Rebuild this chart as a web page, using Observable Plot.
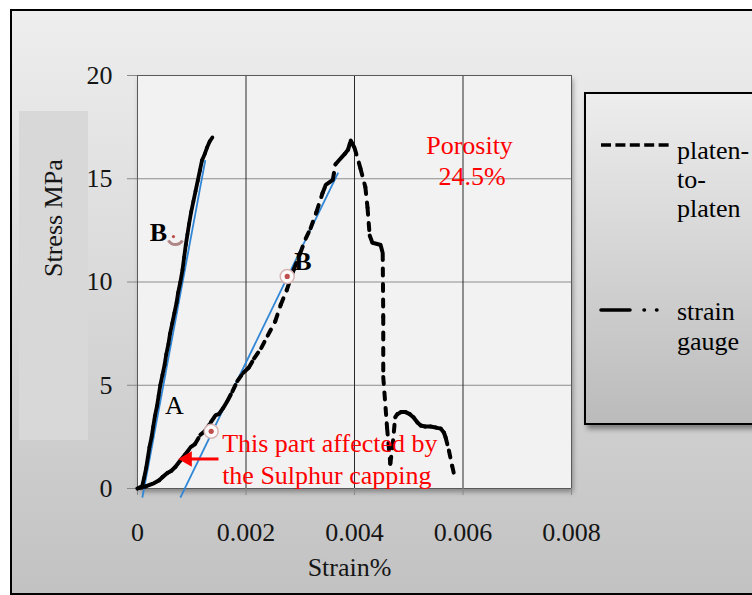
<!DOCTYPE html>
<html>
<head>
<meta charset="utf-8">
<script src="https://cdn.jsdelivr.net/npm/d3@7"></script>
<script src="https://cdn.jsdelivr.net/npm/@observablehq/plot@0.6"></script>
<style>
  html, body { margin: 0; padding: 0; background: #fff; }
  #wrap { position: relative; width: 752px; height: 595px; overflow: hidden; font-family: "Liberation Serif", "Times New Roman", serif; }
  #outer { position: absolute; left: 10px; top: 9px; width: 800px; height: 582px; border: 2.5px solid #000;
           background: linear-gradient(#eeeeee, #c2c2c2); }
  #ylabbg { position: absolute; left: 19px; top: 111px; width: 69px; height: 329px; background: #d8d8d8; }
  #plotbg { position: absolute; left: 137px; top: 75px; width: 434px; height: 413px; background: #f2f2f2;
            box-shadow: 2px 4px 5px rgba(0,0,0,0.35); }
  #chart { position: absolute; left: 0; top: 0; }
  #legend { position: absolute; left: 584px; top: 92px; width: 220px; height: 329px; border: 2px solid #000;
            background: linear-gradient(#ededed, #bbbbbb); box-shadow: 3px 4px 5px rgba(0,0,0,0.4); }
  #legend svg { position: absolute; left: -2px; top: -2px; overflow: visible; }
</style>
</head>
<body>
<div id="wrap">
  <div id="outer"></div>
  <div id="ylabbg"></div>
  <div id="plotbg"></div>
  <div id="chart"></div>
  <div id="legend"></div>
</div>
<script>
// Axis ticks and their labels
const xTicks = [0, 0.002, 0.004, 0.006, 0.008];
const xTickLabels = ["0", "0.002", "0.004", "0.006", "0.008"];
const yTicks = [0, 5, 10, 15, 20];
const yTickLabels = ["0", "5", "10", "15", "20"];

// Strain gauge reading (strain, stress MPa)
const strainGaugeStrain = [0, 0.00008, 0.00012, 0.00016, 0.00019, 0.00022, 0.00026, 0.00029, 0.00032, 0.00036,
  0.00039, 0.00042, 0.00046, 0.00050, 0.00053, 0.00057, 0.00060, 0.00064, 0.00068, 0.00072,
  0.00075, 0.00079, 0.00083, 0.00086, 0.00089, 0.00092, 0.00095, 0.00099, 0.00103, 0.00107,
  0.00111, 0.00115, 0.00119, 0.00124, 0.00128, 0.00133, 0.00138];
const strainGaugeStress = [0, 0.05, 0.5, 1.0, 1.5, 2.0, 2.5, 3.0, 3.5, 4.0,
  4.5, 5.0, 5.5, 6.0, 6.5, 7.0, 7.5, 8.0, 8.5, 9.0,
  9.5, 10.0, 10.6, 11.2, 11.8, 12.3, 12.8, 13.4, 13.9, 14.4,
  14.9, 15.4, 15.9, 16.2, 16.5, 16.8, 17.0];

// Platen-to-platen reading (strain, stress MPa)
const platenStrain = [0, 0.00004, 0.00015, 0.00030, 0.00040, 0.00046, 0.00055, 0.00062, 0.00070, 0.00079,
  0.00088, 0.00098, 0.00106, 0.00116, 0.00125, 0.00135, 0.00144, 0.00150, 0.00158, 0.00166,
  0.00175, 0.00184, 0.00195, 0.00205, 0.00215, 0.00228, 0.00240, 0.00254, 0.00264, 0.00275,
  0.00288, 0.00300, 0.00310, 0.00319, 0.00330, 0.00341, 0.00347, 0.00360, 0.00365, 0.00375,
  0.00382, 0.00388, 0.00393, 0.00400, 0.00411, 0.00420, 0.00424, 0.00428, 0.00433, 0.00448,
  0.00452, 0.00453, 0.00453, 0.00460, 0.00466, 0.00470, 0.00475, 0.00479, 0.00486, 0.00494,
  0.00502, 0.00509, 0.00516, 0.00522, 0.00530, 0.00540, 0.00550, 0.00559, 0.00565, 0.00568,
  0.00574, 0.00580, 0.00586];
const platenStress = [0, 0.05, 0.10, 0.25, 0.40, 0.55, 0.75, 0.85, 1.05, 1.36,
  1.65, 2.00, 2.15, 2.60, 2.80, 3.20, 3.55, 3.60, 3.90, 4.25,
  4.70, 5.20, 5.60, 5.85, 6.30, 6.80, 7.40, 8.10, 8.90, 9.60,
  10.60, 11.40, 12.10, 12.60, 13.40, 14.30, 14.70, 14.95, 15.70, 16.00,
  16.20, 16.40, 16.85, 16.50, 15.50, 14.60, 13.60, 12.25, 11.90, 11.80,
  11.40, 8.30, 5.40, 2.95, 1.20, 2.00, 3.45, 3.60, 3.70, 3.70,
  3.60, 3.44, 3.20, 3.05, 3.00, 3.00, 2.95, 2.90, 2.70, 2.47,
  1.84, 1.10, 0.39];

// Fitted elastic lines (blue): [strain, stress] end points
const tangentGauge = [[0.00009, -0.44], [0.00125, 15.9]];
const tangentPlaten = [[0.00079, -0.44], [0.00370, 15.3]];

// Annotations
const boldLabels = [
  {x: 0.000387, y: 12.41, text: "B"},
  {x: 0.00305, y: 10.98, text: "B"}
];
const plainLabels = [
  {x: 0.00068, y: 3.99, text: "A"}
];
const porosityLines = [
  {x: 0.00612, y: 16.62, text: "Porosity"},
  {x: 0.006166, y: 15.08, text: "24.5%"}
];
const cappingLines = [
  {x: 0.00156, y: 2.19, text: "This part affected by"},
  {x: 0.00156, y: 0.63, text: "the Sulphur capping"}
];
const cappingArrow = {x1: 0.001493, x2: 0.00098, tip: 0.000793, y: 1.43};
const markerPoints = [{x: 0.00276, y: 10.27}, {x: 0.001358, y: 2.77}];
const arcMarker = {x: 0.00070, y: 12.2};

const toPoints = (xs, ys) => xs.map((x, i) => ({x, y: ys[i]}));
const toSegments = pts => d3.pairs(pts).map(([a, b]) => ({x1: a.x, y1: a.y, x2: b.x, y2: b.y}));

const gaugeSegs = toSegments(toPoints(strainGaugeStrain, strainGaugeStress));
const platenSegs = toSegments(toPoints(platenStrain, platenStress));
const tangents = [tangentGauge, tangentPlaten].map(([a, b]) => ({x1: a[0], y1: a[1], x2: b[0], y2: b[1]}));

const serif = "Liberation Serif";

const chart = Plot.plot({
  width: 752,
  height: 595,
  marginLeft: 137,
  marginRight: 181,
  marginTop: 75,
  marginBottom: 107,
  style: {background: "transparent", fontFamily: serif, fontSize: "26px", overflow: "visible"},
  x: {domain: [0, 0.008]},
  y: {domain: [0, 20]},
  marks: [
    Plot.gridY([5, 10, 15], {stroke: "#8c8c8c", strokeOpacity: 1, strokeWidth: 1}),
    Plot.gridX([0.002, 0.004, 0.006], {stroke: "#2a2a2a", strokeOpacity: 1, strokeWidth: 1}),
    Plot.frame({stroke: "#5a5a5a", strokeWidth: 1}),
    Plot.axisX(xTicks, {tickSize: 7, tickPadding: 27, stroke: "#888", fill: "#151515", fontSize: 26,
      tickFormat: d => xTickLabels[xTicks.indexOf(d)], label: null}),
    Plot.axisY(yTicks, {tickSize: 10, tickPadding: 15, stroke: "#888", fill: "#151515", fontSize: 26,
      tickFormat: d => yTickLabels[yTicks.indexOf(d)], label: null}),
    Plot.text(["Strain%"], {frameAnchor: "bottom", dy: 87, dx: -5, fontSize: 26, fill: "#151515"}),
    Plot.text(["Stress MPa"], {frameAnchor: "left", dx: -84, dy: -5, rotate: -90, fontSize: 26, fill: "#151515"}),

    // elastic lines
    Plot.link(tangents, {x1: "x1", y1: "y1", x2: "x2", y2: "y2", stroke: "#2f86d6", strokeWidth: 1.8}),

    // measured curves; the dash pattern restarts on every recorded segment
    Plot.link(platenSegs, {x1: "x1", y1: "y1", x2: "x2", y2: "y2", stroke: "#000", strokeWidth: 4,
      strokeLinecap: "round", strokeDasharray: "7,8.5"}),
    Plot.link(gaugeSegs, {x1: "x1", y1: "y1", x2: "x2", y2: "y2", stroke: "#000", strokeWidth: 3.8,
      strokeLinecap: "round", strokeDasharray: "14,6,1,6,1,6"}),

    // point markers
    Plot.dot([arcMarker], {x: "x", y: "y", r: 8, fill: "none", stroke: "#9c6a6a", strokeOpacity: 0.8,
      strokeWidth: 3, strokeDasharray: "0,4.2,16.8,40"}),
    Plot.dot([arcMarker], {x: "x", y: "y", dx: -2, r: 1.6, fill: "#c0504d"}),
    Plot.dot(markerPoints, {x: "x", y: "y", r: 7, fill: "#fdfafa", stroke: "#d6b4b4", strokeWidth: 1.5}),
    Plot.dot(markerPoints, {x: "x", y: "y", r: 2.6, fill: "#c0504d"}),

    Plot.text(boldLabels, {x: "x", y: "y", text: "text", fontWeight: "bold", fontSize: 26, fill: "#000"}),
    Plot.text(plainLabels, {x: "x", y: "y", text: "text", fontSize: 26, fill: "#000"}),

    Plot.text(porosityLines, {x: "x", y: "y", text: "text", fontSize: 26, fill: "#ff0000"}),
    Plot.text(cappingLines, {x: "x", y: "y", text: "text", textAnchor: "start", fontSize: 26, fill: "#ff0000"}),

    // arrow pointing at the capping-affected toe
    Plot.link([cappingArrow], {x1: "x1", x2: "x2", y1: "y", y2: "y", stroke: "#ff0000", strokeWidth: 3}),
    Plot.dot([cappingArrow], {x: d => (d.tip * 1 + d.x2 * 2) / 3, y: "y", symbol: "triangle", r: 5.8,
      rotate: -90, fill: "#ff0000", stroke: "none"})
  ]
});
document.getElementById("chart").append(chart);

// Legend
const legend = d3.select("#legend").append("svg").attr("width", 200).attr("height", 340);
const ls = {font: serif, size: 26};
legend.append("line").attr("x1", 17).attr("x2", 87).attr("y1", 53).attr("y2", 53)
  .attr("stroke", "#000").attr("stroke-width", 3.5).attr("stroke-dasharray", "10,4.4");
[["platen-", 67], ["to-", 96], ["platen", 125]].forEach(([t, y]) =>
  legend.append("text").attr("x", 93).attr("y", y).attr("font-family", ls.font).attr("font-size", ls.size)
    .attr("fill", "#000").text(t));
legend.append("line").attr("x1", 17).attr("x2", 78).attr("y1", 218).attr("y2", 218)
  .attr("stroke", "#000").attr("stroke-width", 3.5).attr("stroke-linecap", "round")
  .attr("stroke-dasharray", "29,14,0.5,12,0.5,100");
[["strain", 228], ["gauge", 258]].forEach(([t, y]) =>
  legend.append("text").attr("x", 93).attr("y", y).attr("font-family", ls.font).attr("font-size", ls.size)
    .attr("fill", "#000").text(t));
</script>
</body>
</html>
